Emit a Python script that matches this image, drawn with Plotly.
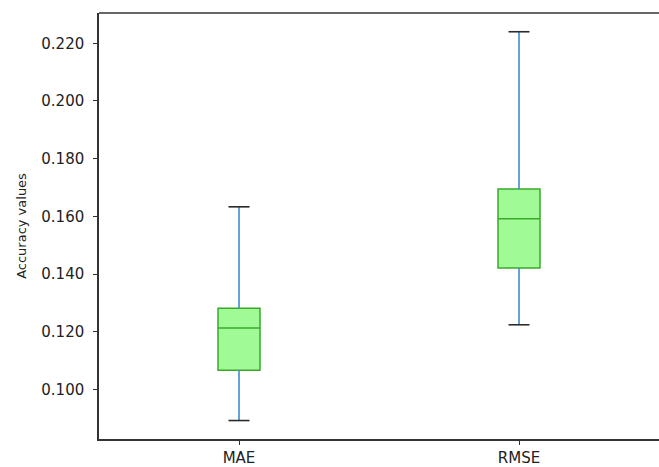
import plotly.graph_objects as go

# Summary statistics of the error metrics
metrics = ["MAE", "RMSE"]
positions = [1, 2]
lower_whisker = [0.0892, 0.1224]
q1 = [0.1066, 0.1421]
median = [0.1213, 0.1592]
q3 = [0.1281, 0.1695]
upper_whisker = [0.1633, 0.2240]

y_ticks = [0.100, 0.120, 0.140, 0.160, 0.180, 0.200, 0.220]

box_width = 0.15
cap_half = box_width / 4

whisker_color = "#3f8bd0"
cap_color = "#2b2b2b"
edge_color = "#3aa92b"
fill_color = "#a0fa96"
spine_color = "#333333"

fig = go.Figure()

# whiskers (vertical lines) and caps
for x, lo, b1, b3, hi in zip(positions, lower_whisker, q1, q3, upper_whisker):
    for a, b in ((lo, b1), (b3, hi)):
        fig.add_trace(go.Scatter(x=[x, x], y=[a, b], mode="lines",
                                 line=dict(color=whisker_color, width=1.6),
                                 hoverinfo="skip", showlegend=False))
    for v in (lo, hi):
        fig.add_trace(go.Scatter(x=[x - cap_half, x + cap_half], y=[v, v], mode="lines",
                                 line=dict(color=cap_color, width=1.6),
                                 hoverinfo="skip", showlegend=False))

# boxes with median lines
fig.add_trace(go.Box(
    x=positions, q1=q1, median=median, q3=q3,
    lowerfence=q1, upperfence=q3,
    width=box_width, whiskerwidth=0,
    fillcolor=fill_color, line=dict(color=edge_color, width=1.5),
    boxpoints=False, showlegend=False,
))

# top spine (the right side of the frame runs past the page edge)
fig.add_shape(type="line", xref="paper", yref="paper", x0=0, x1=1, y0=1, y1=1,
              line=dict(color=spine_color, width=1.5))

fig.update_layout(
    width=659, height=467,
    margin=dict(l=99, r=0, t=13, b=22),
    paper_bgcolor="white", plot_bgcolor="white",
    font=dict(family="DejaVu Sans", color="#222222"),
    showlegend=False,
)
fig.update_xaxes(
    range=[0.5, 2.5], tickvals=positions, ticktext=metrics,
    showgrid=False, zeroline=False,
    showline=True, linecolor=spine_color, linewidth=1.5,
    ticks="outside", ticklen=4, tickcolor=spine_color,
    tickfont=dict(size=15),
)
fig.update_yaxes(
    range=[0.0828, 0.2305], tickvals=y_ticks,
    ticktext=[f"{v:.3f}" for v in y_ticks],
    showgrid=False, zeroline=False,
    showline=True, linecolor=spine_color, linewidth=1.5,
    ticks="outside", ticklen=4, tickcolor=spine_color,
    tickfont=dict(size=15), ticklabelstandoff=6,
    title=dict(text="Accuracy values", font=dict(size=13), standoff=12),
)

fig.write_html("out.html")
